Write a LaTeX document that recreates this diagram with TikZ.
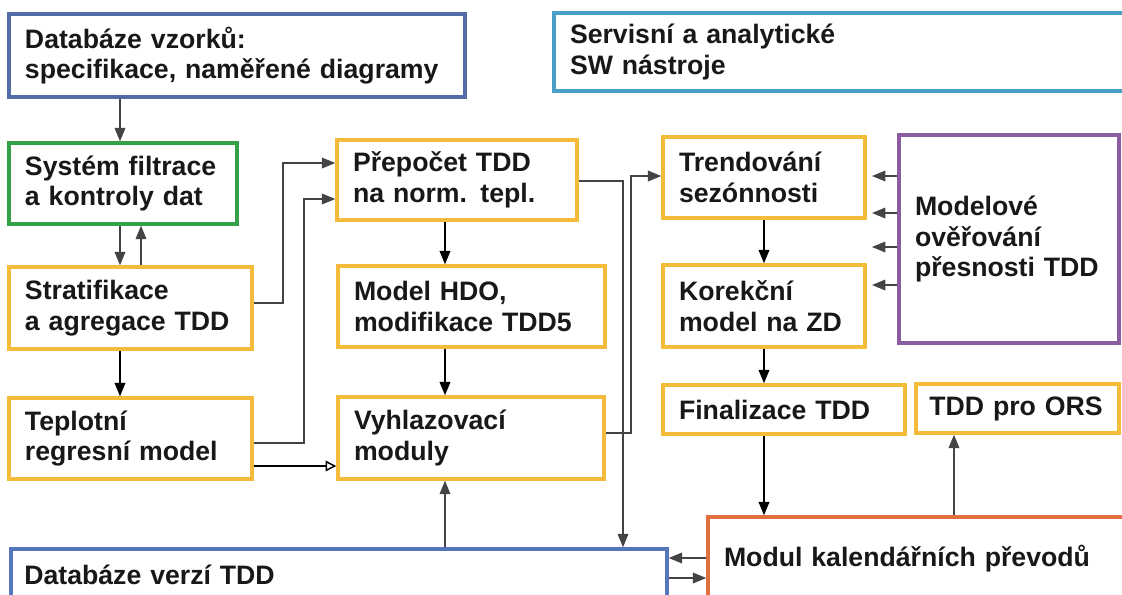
\documentclass[tikz,border=0pt]{standalone}
\usepackage{fontspec}
\setmainfont{Liberation Sans}
\usetikzlibrary{arrows.meta}
\definecolor{cDBvz}{RGB}{82,108,168}
\definecolor{cServ}{RGB}{72,160,200}
\definecolor{cGreen}{RGB}{52,160,72}
\definecolor{cOrange}{RGB}{244,188,58}
\definecolor{cPurple}{RGB}{140,92,160}
\definecolor{cModul}{RGB}{226,112,62}
\definecolor{cDBv}{RGB}{84,118,188}
\definecolor{cTxt}{RGB}{24,24,24}
\definecolor{cGray}{RGB}{68,68,68}
\newcommand\tddbox[8]{%
  \pgfmathsetmacro\tbw{(#4-#2)*0.75}%
  \pgfmathsetmacro\tbh{(#5-#3)*0.75}%
  \pgfmathsetmacro\tbt{\tbw-2*#7}%
  \node[boxbase,#6,minimum width=\tbw pt,minimum height=\tbh pt,text width=\tbt pt,inner xsep=#7pt] (#1) at ({(#2+#4)/2},{(#3+#5)/2}) {#8};}
\tikzset{
  boxbase/.style={draw, rectangle, line width=2.6pt, fill=white, inner ysep=0pt, align=left,
    text=cTxt, font=\bfseries\fontsize{20}{23}\selectfont},
  obox/.style={draw=cOrange},
  ga/.style={draw=cGray, line width=0.9pt, -{Triangle[length=10pt,width=8pt]}},
  ba/.style={draw=black, line width=1.1pt, -{Triangle[length=10pt,width=8pt]}},
  bo/.style={draw=black, line width=1.1pt, -{Triangle[open,length=8pt,width=8pt]}},
}
\begin{document}
\begin{tikzpicture}[x=0.75pt,y=-0.75pt]
\useasboundingbox (0,0) rectangle (1122,594);
\clip (0,0) rectangle (1122,594);
\fill[white] (0,0) rectangle (1122,594);
% boxes
\tddbox{dbvz}{9}{14}{465}{97}{draw=cDBvz}{12}{Databáze vzorků:\\specifikace, naměřené diagramy}
\tddbox{serv}{554}{13}{1135}{91}{draw=cServ}{12}{Servisní a analytické\\SW nástroje}
\tddbox{filtr}{9}{143}{237}{224}{draw=cGreen}{12}{Systém filtrace\\a kontroly dat}
\tddbox{strat}{9}{267}{252}{349}{obox}{12}{Stratifikace\\a agregace TDD}
\tddbox{tepl}{9}{398}{252}{479}{obox}{12}{Teplotní\\regresní model}
\tddbox{prep}{337}{140}{577}{220}{obox}{12}{Přepočet TDD\\na norm. tepl.}
\tddbox{hdo}{338}{266}{605}{347}{obox}{12}{Model HDO,\\modifikace TDD5}
\tddbox{vyhl}{338}{397}{604}{479}{obox}{12}{Vyhlazovací\\moduly}
\tddbox{trend}{663}{137}{865}{218}{obox}{12}{Trendování\\sezónnosti}
\tddbox{korek}{663}{265}{865}{347}{obox}{12}{Korekční\\model na ZD}
\tddbox{purple}{899}{135}{1119}{343}{draw=cPurple}{12}{Modelové\\ověřování\\přesnosti TDD}
\tddbox{final}{663}{385}{905}{434}{obox}{12}{Finalizace TDD}
\tddbox{ors}{916}{384}{1119}{433}{obox}{10}{TDD pro ORS}
\tddbox{modul}{708}{517}{1135}{601}{draw=cModul}{12}{Modul kalendářních převodů}
\tddbox{dbv}{11}{549}{667}{601}{draw=cDBv}{10}{Databáze verzí TDD}
% helper coordinates
\coordinate (X120) at (120,0);
\coordinate (X141) at (141,0);
\coordinate (X283) at (283,0);
\coordinate (X304) at (304,0);
\coordinate (X445) at (445,0);
\coordinate (X623) at (623,0);
\coordinate (X631) at (631,0);
\coordinate (X764) at (764,0);
\coordinate (X954) at (954,0);
\coordinate (Y163) at (0,163);
\coordinate (Y176) at (0,176);
\coordinate (Y181) at (0,181);
\coordinate (Y199) at (0,199);
\coordinate (Y213) at (0,213);
\coordinate (Y247) at (0,247);
\coordinate (Y285) at (0,285);
\coordinate (Y303) at (0,303);
\coordinate (Y433) at (0,433);
\coordinate (Y443) at (0,443);
\coordinate (Y466) at (0,466);
\coordinate (Y558) at (0,558);
\coordinate (Y578) at (0,578);
\coordinate (T1) at (872,176);
\coordinate (T2) at (872,213);
\coordinate (T3) at (872,247);
\coordinate (T4) at (872,285);
% connectors
\draw[ga] (dbvz.south -| X120) -- (filtr.north -| X120);
\draw[ga] (filtr.south -| X120) -- (strat.north -| X120);
\draw[ga] (strat.north -| X141) -- (filtr.south -| X141);
\draw[ba] (strat.south -| X120) -- (tepl.north -| X120);
\draw[ga] (strat.east |- Y303) -| (X283 |- Y163) -- (prep.west |- Y163);
\draw[ga] (tepl.east |- Y443) -| (X304 |- Y199) -- (prep.west |- Y199);
\draw[bo] (tepl.east |- Y466) -- (vyhl.west |- Y466);
\draw[ba] (prep.south -| X445) -- (hdo.north -| X445);
\draw[ba] (hdo.south -| X445) -- (vyhl.north -| X445);
\draw[ga] (dbv.north -| X445) -- (vyhl.south -| X445);
\draw[ga] (prep.east |- Y181) -| (dbv.north -| X623);
\draw[ga] (vyhl.east |- Y433) -| (X631 |- Y176) -- (trend.west |- Y176);
\draw[ba] (trend.south -| X764) -- (korek.north -| X764);
\draw[ba] (korek.south -| X764) -- (final.north -| X764);
\draw[ba] (final.south -| X764) -- (modul.north -| X764);
\draw[ga] (modul.north -| X954) -- (ors.south -| X954);
\draw[ga] (purple.west |- Y176) -- (T1);
\draw[ga] (purple.west |- Y213) -- (T2);
\draw[ga] (purple.west |- Y247) -- (T3);
\draw[ga] (purple.west |- Y285) -- (T4);
\draw[ga] (modul.west |- Y558) -- (dbv.east |- Y558);
\draw[ga] (dbv.east |- Y578) -- (modul.west |- Y578);
\end{tikzpicture}
\end{document}
